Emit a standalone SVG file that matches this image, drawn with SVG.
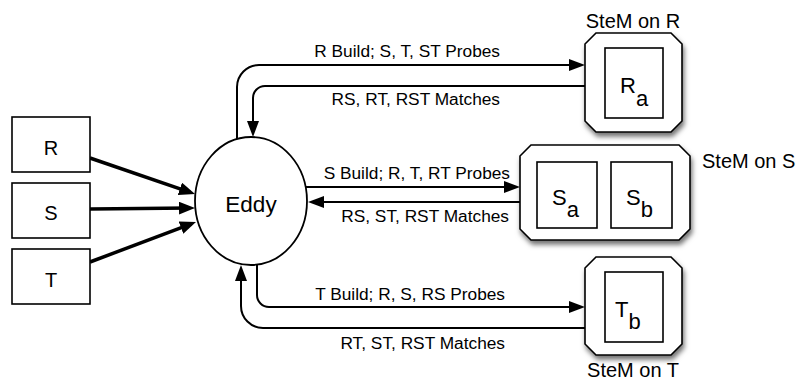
<svg xmlns="http://www.w3.org/2000/svg" width="799" height="383" viewBox="0 0 799 383">
  <style>
    text { font-family: "Liberation Sans", Arial, Helvetica, sans-serif; fill: #000; }
    .box { fill: #fff; stroke: #000; stroke-width: 1.6; }
    .stem { fill: #fff; stroke: #000; stroke-width: 1.6; filter: url(#shadow); }
    .inner { fill: #fff; stroke: #000; stroke-width: 1.6; }
    .flow { fill: none; stroke: #000; stroke-width: 2; marker-end: url(#head); }
    .feed { fill: none; stroke: #000; stroke-width: 3.5; marker-end: url(#headBold); }
    .lbl { font-size: 17.3px; text-anchor: end; }
    .src { font-size: 20px; text-anchor: middle; }
    .cap { font-size: 20px; }
    .part { font-size: 22px; }
  </style>
  <defs>
    <marker id="head" viewBox="0 0 16 12" markerWidth="16" markerHeight="12" refX="13" refY="6" orient="auto" markerUnits="userSpaceOnUse">
      <path d="M0,0 L16,6 L0,12 z" fill="#000"/>
    </marker>
    <marker id="headBold" viewBox="0 0 16 13" markerWidth="16" markerHeight="13" refX="11" refY="6.5" orient="auto" markerUnits="userSpaceOnUse">
      <path d="M0,0 L16,6.5 L0,13 z" fill="#000"/>
    </marker>
    <filter id="shadow" x="-20%" y="-20%" width="150%" height="150%">
      <feDropShadow dx="1.5" dy="4" stdDeviation="2.5" flood-color="#000" flood-opacity="0.55"/>
    </filter>
  </defs>

  <!-- connectors -->
  <g id="connectors">
    <!-- sources into the eddy -->
    <path class="feed" d="M90,158 L190.3,192.4"/>
    <path class="feed" d="M90,209 L190,208"/>
    <path class="feed" d="M90,262 L191.3,223.8"/>
    <!-- eddy <-> SteM on R -->
    <path class="flow" d="M237,139 V87 A22,22 0 0 1 259,65 H582"/>
    <path class="flow" d="M585,86 H265 A12,12 0 0 0 253,98 V134"/>
    <!-- eddy <-> SteM on S -->
    <path class="flow" d="M306,187 H517"/>
    <path class="flow" d="M520,202 H311"/>
    <!-- eddy <-> SteM on T -->
    <path class="flow" d="M257,265 V295 A12,12 0 0 0 269,307 H582"/>
    <path class="flow" d="M585,328 H263 A22,22 0 0 1 241,306 V268"/>
    <!-- connector labels -->
    <text class="lbl" x="500" y="57">R Build; S, T, ST Probes</text>
    <text class="lbl" x="500" y="105">RS, RT, RST Matches</text>
    <text class="lbl" x="510" y="179">S Build; R, T, RT Probes</text>
    <text class="lbl" x="509" y="222">RS, ST, RST Matches</text>
    <text class="lbl" x="505" y="300">T Build; R, S, RS Probes</text>
    <text class="lbl" x="505" y="349">RT, ST, RST Matches</text>
  </g>

  <!-- source tables -->
  <g id="src-R">
    <rect class="box" x="12" y="117" width="78" height="55"/>
    <text class="src" x="51" y="155">R</text>
  </g>
  <g id="src-S">
    <rect class="box" x="12" y="183" width="78" height="55"/>
    <text class="src" x="51" y="220">S</text>
  </g>
  <g id="src-T">
    <rect class="box" x="12" y="249" width="78" height="55"/>
    <text class="src" x="51" y="287">T</text>
  </g>

  <!-- eddy operator -->
  <g id="eddy">
    <ellipse cx="251" cy="201" rx="56" ry="64" fill="#fff" stroke="#000" stroke-width="1.8"/>
    <text x="251" y="212" font-size="22.5" text-anchor="middle">Eddy</text>
  </g>

  <!-- state modules -->
  <g id="stem-R">
    <polygon class="stem" points="596,33 671,33 682,44 682,121 671,132 596,132 585,121 585,44"/>
    <rect class="inner" x="605" y="48" width="58" height="70"/>
    <text class="part" x="620" y="93">R<tspan dy="13">a</tspan></text>
    <text class="cap" x="633" y="28" text-anchor="middle">SteM on R</text>
  </g>
  <g id="stem-S">
    <polygon class="stem" points="531,145 679,145 690,156 690,229 679,240 531,240 520,229 520,156"/>
    <rect class="inner" x="537" y="162" width="60" height="66"/>
    <rect class="inner" x="611" y="162" width="61" height="66"/>
    <text class="part" x="552" y="205">S<tspan dy="12">a</tspan></text>
    <text class="part" x="626" y="205">S<tspan dy="12">b</tspan></text>
    <text class="cap" x="702" y="168">SteM on S</text>
  </g>
  <g id="stem-T">
    <polygon class="stem" points="596,257 671,257 682,268 682,344 671,355 596,355 585,344 585,268"/>
    <rect class="inner" x="605" y="272" width="58" height="70"/>
    <text class="part" x="615" y="317">T<tspan dy="12">b</tspan></text>
    <text class="cap" x="633" y="377" text-anchor="middle">SteM on T</text>
  </g>
</svg>
